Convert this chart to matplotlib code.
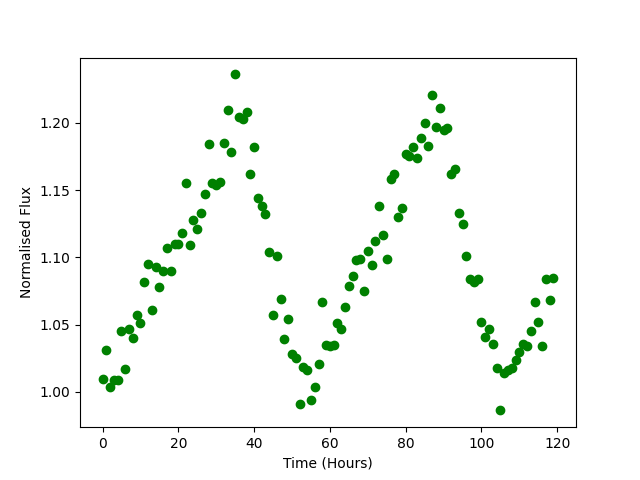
import matplotlib
matplotlib.use("Agg")
import matplotlib.pyplot as plt

# time in hours, one reading per hour
time = list(range(120))

flux = [
    1.010, 1.031, 1.004, 1.009, 1.009, 1.045, 1.017, 1.047, 1.040, 1.057,
    1.0515, 1.082, 1.095, 1.061, 1.093, 1.078, 1.090, 1.107, 1.090, 1.110,
    1.110, 1.118, 1.155, 1.109, 1.128, 1.121, 1.133, 1.147, 1.184, 1.155,
    1.154, 1.156, 1.185, 1.2095, 1.178, 1.236, 1.204, 1.203, 1.208, 1.162,
    1.182, 1.144, 1.138, 1.132, 1.104, 1.057, 1.101, 1.069, 1.039, 1.054,
    1.0285, 1.025, 0.991, 1.0185, 1.0166, 0.994, 1.004, 1.0205, 1.067, 1.035,
    1.034, 1.035, 1.051, 1.0466, 1.063, 1.079, 1.086, 1.0977, 1.099, 1.075,
    1.1044, 1.094, 1.112, 1.138, 1.117, 1.0987, 1.158, 1.162, 1.130, 1.1366,
    1.1766, 1.1755, 1.182, 1.174, 1.189, 1.200, 1.183, 1.221, 1.197, 1.211,
    1.195, 1.196, 1.162, 1.166, 1.1327, 1.125, 1.101, 1.0836, 1.082, 1.0836,
    1.0523, 1.041, 1.0468, 1.036, 1.0176, 0.9863, 1.014, 1.0163, 1.018, 1.024,
    1.030, 1.0356, 1.0344, 1.0456, 1.067, 1.052, 1.0344, 1.0843, 1.0687, 1.085,
]

fig = plt.figure(figsize=(6.4, 4.8), dpi=100)
plt.plot(time, flux, "go")
plt.xlabel("Time (Hours)")
plt.ylabel("Normalised Flux")
plt.savefig("out.png")
